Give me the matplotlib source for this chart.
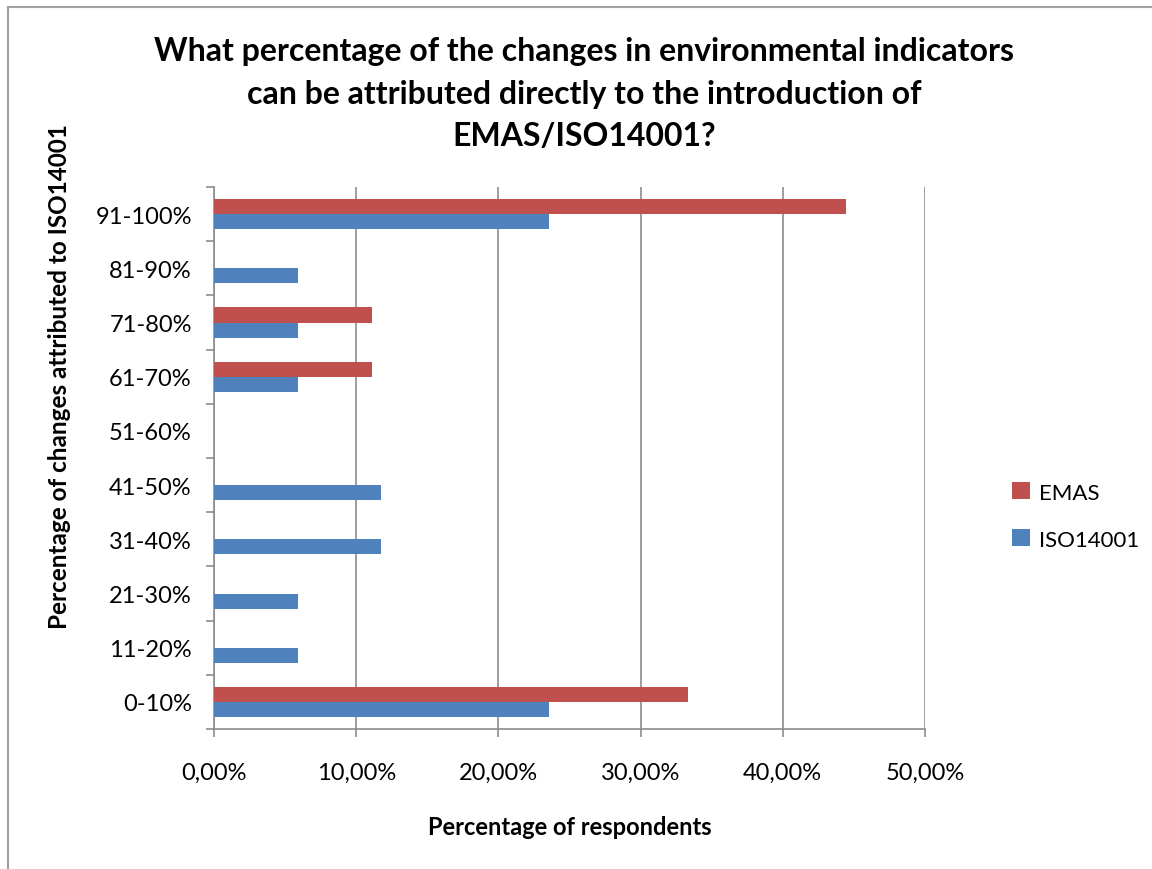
import numpy as np
import matplotlib
matplotlib.use("Agg")
import matplotlib.pyplot as plt
from matplotlib.patches import Rectangle
from matplotlib.ticker import FuncFormatter, FixedLocator

plt.rcParams['font.family'] = ['Lato', 'DejaVu Sans']

# categories bottom -> top
categories = ["0-10%", "11-20%", "21-30%", "31-40%", "41-50%",
              "51-60%", "61-70%", "71-80%", "81-90%", "91-100%"]
emas = [33.33, 0, 0, 0, 0, 0, 11.11, 11.11, 0, 44.44]
iso = [23.53, 5.88, 5.88, 11.76, 11.76, 0, 5.88, 5.88, 5.88, 23.53]

red = "#c0504d"
blue = "#4f81bd"
grey = "#8c8c8c"

W, H = 1152, 870
fig = plt.figure(figsize=(W / 100, H / 100), dpi=100)
ax = fig.add_axes([214 / W, 1 - 730 / H, (925 - 214) / W, (730 - 188) / H])

y = np.arange(len(categories))
h = 0.28
ax.barh(y + h / 2, emas, height=h, color=red, label="EMAS", zorder=3)
ax.barh(y - h / 2, iso, height=h, color=blue, label="ISO14001", zorder=3)

ax.set_xlim(0, 50)
ax.set_ylim(-0.5, len(categories) - 0.5)
ax.set_xticks(np.arange(0, 51, 10))
ax.xaxis.set_major_formatter(FuncFormatter(lambda v, p: ("%.2f%%" % v).replace(".", ",")))
ax.set_yticks(y)
ax.set_yticklabels(categories)
ax.yaxis.set_minor_locator(FixedLocator(np.arange(-0.5, len(categories), 1)))
ax.tick_params(axis="y", which="major", length=0, pad=16, labelsize=17)
ax.tick_params(axis="y", which="minor", length=6, color=grey, width=1.2)
ax.tick_params(axis="x", length=6, color=grey, width=1.2, pad=18, labelsize=17)

ax.grid(axis="x", color=grey, linewidth=1.2, zorder=0)
for s in ["top", "right"]:
    ax.spines[s].set_visible(False)
for s in ["left", "bottom"]:
    ax.spines[s].set_color(grey)
    ax.spines[s].set_linewidth(1.2)

fig.text(570 / W, 1 - 828 / H, "Percentage of respondents", ha="center", va="center",
         fontsize=17, fontweight="bold")
fig.text(60 / W, 1 - 377 / H, "Percentage of changes attributed to ISO14001",
         ha="center", va="center", rotation=90, fontsize=17.5, fontweight="bold")

fig.text(584 / W, 1 - 37 / H, "What percentage of the changes in environmental indicators\n"
         "can be attributed directly to the introduction of\nEMAS/ISO14001?",
         ha="center", va="top", fontsize=23, fontweight="bold", linespacing=1.57)

handles, labels = ax.get_legend_handles_labels()
fig.legend(handles, labels, loc="center left", bbox_to_anchor=(992 / W, 1 - 517 / H),
           frameon=False, fontsize=16, handlelength=0.8, handleheight=0.8,
           handletextpad=0.4, labelspacing=1.2)

# outer chart border (only left and top visible in the crop)
fig.patches.append(Rectangle((8 / W, -0.1), 1.2, 1.1 - 8 / H,
                             transform=fig.transFigure, fill=False,
                             edgecolor="#a0a0a0", linewidth=1.5))

fig.savefig("out.png", dpi=100)
